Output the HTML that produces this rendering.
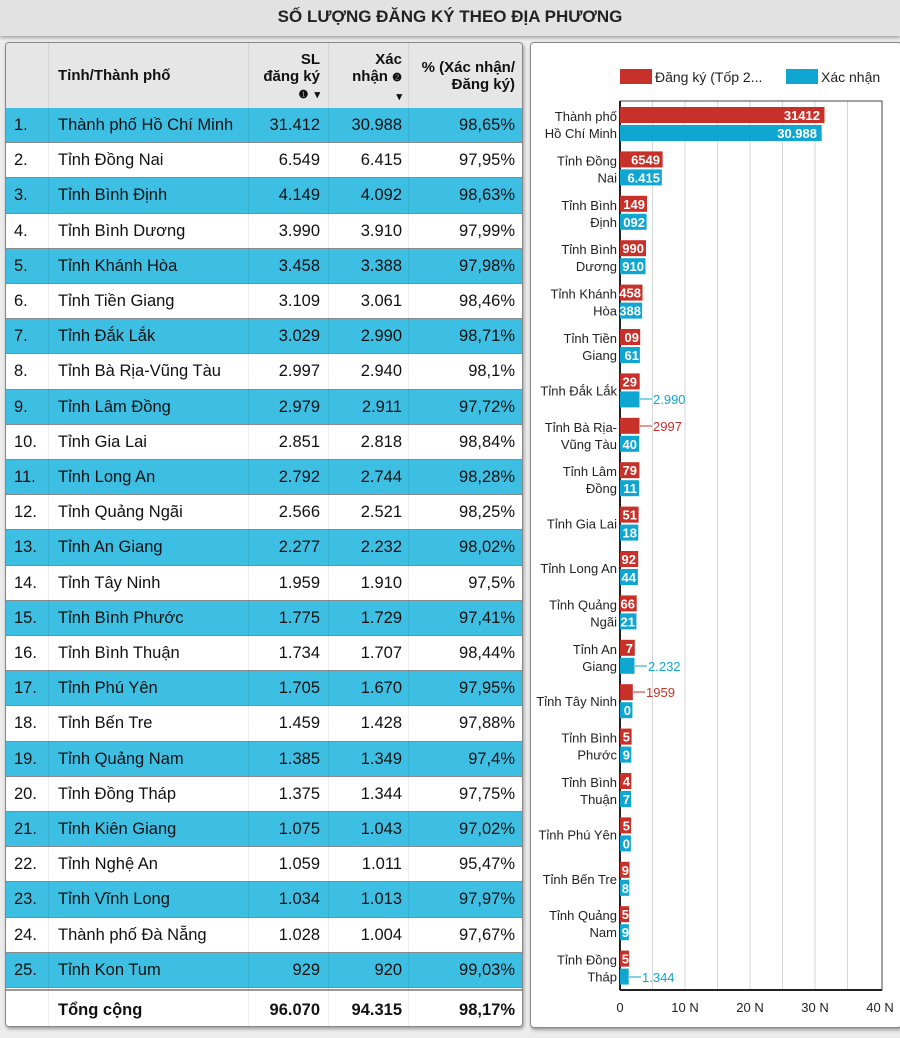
<!DOCTYPE html>
<html><head><meta charset="utf-8">
<style>
*{box-sizing:border-box;margin:0;padding:0}
body{width:900px;height:1038px;background:#ececec;font-family:"Liberation Sans",sans-serif;position:relative;overflow:hidden;color:#111}
.title{position:absolute;left:0;top:0;width:900px;height:36px;background:#e2e2e2;box-shadow:0 2px 3px #aaa;text-align:center;font-weight:bold;font-size:17px;line-height:34px;color:#222}
.tbl{position:absolute;left:5px;top:42px;width:518px;height:985px;background:#fff;border:1px solid #888;border-radius:4px;box-shadow:1px 2px 3px #999;overflow:hidden}
.hdr{position:absolute;left:0;top:0;width:516px;height:65px;background:#e6e6e6;font-weight:bold;font-size:15px}
.row{position:absolute;left:0;width:516px;height:35.2px;border-bottom:1px solid #8a8a8a;font-size:16.5px;line-height:34px}
.c{background:#3dbfe3}
.w{background:#fff}
.row span,.hdr span{position:absolute}
.n{left:8px}.nm{left:52px}
.a{right:202px;text-align:right}.b{right:120px;text-align:right}.p{right:7px;text-align:right}
.v1,.v2,.v3{position:absolute;top:0;width:1px;height:100%;background:rgba(0,0,0,0.07)}
.chart{position:absolute;left:530px;top:42px;width:372px;height:986px;background:#fff;border:1px solid #888;border-radius:4px;box-shadow:1px 2px 3px #999}
</style></head><body>
<div class="title">SỐ LƯỢNG ĐĂNG KÝ THEO ĐỊA PHƯƠNG</div>
<div class="tbl">
<div class="hdr">
<span style="left:52px;top:24px">Tỉnh/Thành phố</span>
<span style="right:202px;top:8px;text-align:right;line-height:17px">SL<br>đăng ký<br><span style="position:static;font-size:11px">❶ &nbsp;▾</span></span>
<span style="right:120px;top:8px;text-align:right;line-height:17px">Xác<br>nhận <span style="position:static;font-size:11px">❷</span><br><span style="position:static;font-size:11px">▾</span></span>
<span style="right:7px;top:16px;text-align:right;line-height:17px">% (Xác nhận/<br>Đăng ký)</span>
</div>
<div class="row c" style="top:65px"><span class="n">1.</span><span class="nm">Thành phố Hồ Chí Minh</span><span class="a">31.412</span><span class="b">30.988</span><span class="p">98,65%</span></div>
<div class="row w" style="top:100.2px"><span class="n">2.</span><span class="nm">Tỉnh Đồng Nai</span><span class="a">6.549</span><span class="b">6.415</span><span class="p">97,95%</span></div>
<div class="row c" style="top:135.4px"><span class="n">3.</span><span class="nm">Tỉnh Bình Định</span><span class="a">4.149</span><span class="b">4.092</span><span class="p">98,63%</span></div>
<div class="row w" style="top:170.6px"><span class="n">4.</span><span class="nm">Tỉnh Bình Dương</span><span class="a">3.990</span><span class="b">3.910</span><span class="p">97,99%</span></div>
<div class="row c" style="top:205.8px"><span class="n">5.</span><span class="nm">Tỉnh Khánh Hòa</span><span class="a">3.458</span><span class="b">3.388</span><span class="p">97,98%</span></div>
<div class="row w" style="top:241px"><span class="n">6.</span><span class="nm">Tỉnh Tiền Giang</span><span class="a">3.109</span><span class="b">3.061</span><span class="p">98,46%</span></div>
<div class="row c" style="top:276.2px"><span class="n">7.</span><span class="nm">Tỉnh Đắk Lắk</span><span class="a">3.029</span><span class="b">2.990</span><span class="p">98,71%</span></div>
<div class="row w" style="top:311.4px"><span class="n">8.</span><span class="nm">Tỉnh Bà Rịa-Vũng Tàu</span><span class="a">2.997</span><span class="b">2.940</span><span class="p">98,1%</span></div>
<div class="row c" style="top:346.6px"><span class="n">9.</span><span class="nm">Tỉnh Lâm Đồng</span><span class="a">2.979</span><span class="b">2.911</span><span class="p">97,72%</span></div>
<div class="row w" style="top:381.8px"><span class="n">10.</span><span class="nm">Tỉnh Gia Lai</span><span class="a">2.851</span><span class="b">2.818</span><span class="p">98,84%</span></div>
<div class="row c" style="top:417px"><span class="n">11.</span><span class="nm">Tỉnh Long An</span><span class="a">2.792</span><span class="b">2.744</span><span class="p">98,28%</span></div>
<div class="row w" style="top:452.2px"><span class="n">12.</span><span class="nm">Tỉnh Quảng Ngãi</span><span class="a">2.566</span><span class="b">2.521</span><span class="p">98,25%</span></div>
<div class="row c" style="top:487.4px"><span class="n">13.</span><span class="nm">Tỉnh An Giang</span><span class="a">2.277</span><span class="b">2.232</span><span class="p">98,02%</span></div>
<div class="row w" style="top:522.6px"><span class="n">14.</span><span class="nm">Tỉnh Tây Ninh</span><span class="a">1.959</span><span class="b">1.910</span><span class="p">97,5%</span></div>
<div class="row c" style="top:557.8px"><span class="n">15.</span><span class="nm">Tỉnh Bình Phước</span><span class="a">1.775</span><span class="b">1.729</span><span class="p">97,41%</span></div>
<div class="row w" style="top:593px"><span class="n">16.</span><span class="nm">Tỉnh Bình Thuận</span><span class="a">1.734</span><span class="b">1.707</span><span class="p">98,44%</span></div>
<div class="row c" style="top:628.2px"><span class="n">17.</span><span class="nm">Tỉnh Phú Yên</span><span class="a">1.705</span><span class="b">1.670</span><span class="p">97,95%</span></div>
<div class="row w" style="top:663.4px"><span class="n">18.</span><span class="nm">Tỉnh Bến Tre</span><span class="a">1.459</span><span class="b">1.428</span><span class="p">97,88%</span></div>
<div class="row c" style="top:698.6px"><span class="n">19.</span><span class="nm">Tỉnh Quảng Nam</span><span class="a">1.385</span><span class="b">1.349</span><span class="p">97,4%</span></div>
<div class="row w" style="top:733.8px"><span class="n">20.</span><span class="nm">Tỉnh Đồng Tháp</span><span class="a">1.375</span><span class="b">1.344</span><span class="p">97,75%</span></div>
<div class="row c" style="top:769px"><span class="n">21.</span><span class="nm">Tỉnh Kiên Giang</span><span class="a">1.075</span><span class="b">1.043</span><span class="p">97,02%</span></div>
<div class="row w" style="top:804.2px"><span class="n">22.</span><span class="nm">Tỉnh Nghệ An</span><span class="a">1.059</span><span class="b">1.011</span><span class="p">95,47%</span></div>
<div class="row c" style="top:839.4px"><span class="n">23.</span><span class="nm">Tỉnh Vĩnh Long</span><span class="a">1.034</span><span class="b">1.013</span><span class="p">97,97%</span></div>
<div class="row w" style="top:874.6px"><span class="n">24.</span><span class="nm">Thành phố Đà Nẵng</span><span class="a">1.028</span><span class="b">1.004</span><span class="p">97,67%</span></div>
<div class="row c" style="top:909.8px"><span class="n">25.</span><span class="nm">Tỉnh Kon Tum</span><span class="a">929</span><span class="b">920</span><span class="p">99,03%</span></div>
<div style="position:absolute;left:0;top:946px;width:516px;height:2px;background:#999"></div>
<div class="row w" style="top:948px;font-weight:bold;border:none;height:36px;line-height:38px"><span class="nm">Tổng cộng</span><span class="a">96.070</span><span class="b">94.315</span><span class="p">98,17%</span></div>
<div class="v1" style="left:42px"></div><div class="v2" style="left:242px"></div><div class="v3" style="left:322px"></div><div class="v3" style="left:402px"></div>
</div>
<div class="chart"></div>
<svg style="position:absolute;left:0;top:0" width="900" height="1038" font-family="Liberation Sans, sans-serif">
<rect x="620" y="69" width="32" height="15" fill="#c8302a"/>
<text x="655" y="82" font-size="14" fill="#222">Đăng ký (Tốp 2...</text>
<rect x="786" y="69" width="32" height="15" fill="#10a6d2"/>
<text x="821" y="82" font-size="14" fill="#222">Xác nhận</text>
<g stroke="#d6d6d6" stroke-width="1">
<line x1="652.5" y1="101" x2="652.5" y2="990"/><line x1="685" y1="101" x2="685" y2="990"/><line x1="717.5" y1="101" x2="717.5" y2="990"/><line x1="750" y1="101" x2="750" y2="990"/><line x1="782.5" y1="101" x2="782.5" y2="990"/><line x1="815" y1="101" x2="815" y2="990"/><line x1="847.5" y1="101" x2="847.5" y2="990"/>
</g>
<rect x="620" y="101" width="262" height="889" fill="none" stroke="#444" stroke-width="1"/>
<line x1="620" y1="101" x2="620" y2="990" stroke="#222" stroke-width="2"/>
<line x1="620" y1="990" x2="882" y2="990" stroke="#222" stroke-width="2"/>
<g fill="#c8302a">
<rect x="620" y="107" width="204.5" height="16"/><rect x="620" y="151.4" width="42.6" height="16"/><rect x="620" y="195.8" width="27" height="16"/><rect x="620" y="240.2" width="26" height="16"/><rect x="620" y="284.6" width="22.5" height="16"/><rect x="620" y="329" width="20.2" height="16"/><rect x="620" y="373.4" width="19.7" height="16"/><rect x="620" y="417.8" width="19.5" height="16"/><rect x="620" y="462.2" width="19.4" height="16"/><rect x="620" y="506.6" width="18.6" height="16"/><rect x="620" y="551" width="18.2" height="16"/><rect x="620" y="595.4" width="16.7" height="16"/><rect x="620" y="639.8" width="14.8" height="16"/><rect x="620" y="684.2" width="12.8" height="16"/><rect x="620" y="728.6" width="11.6" height="16"/><rect x="620" y="773" width="11.3" height="16"/><rect x="620" y="817.4" width="11.1" height="16"/><rect x="620" y="861.8" width="9.5" height="16"/><rect x="620" y="906.2" width="9" height="16"/><rect x="620" y="950.6" width="9" height="16"/>
</g>
<g fill="#10a6d2">
<rect x="620" y="125" width="201.7" height="16"/><rect x="620" y="169.4" width="41.8" height="16"/><rect x="620" y="213.8" width="26.6" height="16"/><rect x="620" y="258.2" width="25.5" height="16"/><rect x="620" y="302.6" width="22.1" height="16"/><rect x="620" y="347" width="19.9" height="16"/><rect x="620" y="391.4" width="19.5" height="16"/><rect x="620" y="435.8" width="19.1" height="16"/><rect x="620" y="480.2" width="19" height="16"/><rect x="620" y="524.6" width="18.3" height="16"/><rect x="620" y="569" width="17.9" height="16"/><rect x="620" y="613.4" width="16.4" height="16"/><rect x="620" y="657.8" width="14.5" height="16"/><rect x="620" y="702.2" width="12.4" height="16"/><rect x="620" y="746.6" width="11.3" height="16"/><rect x="620" y="791" width="11.1" height="16"/><rect x="620" y="835.4" width="10.9" height="16"/><rect x="620" y="879.8" width="9.3" height="16"/><rect x="620" y="924.2" width="8.8" height="16"/><rect x="620" y="968.6" width="8.7" height="16"/>
</g>
<g font-size="13" fill="#fff" font-weight="bold" text-anchor="end">
<text x="820" y="120">31412</text><text x="817" y="138">30.988</text>
<text x="660" y="164.4">6549</text><text x="660" y="182.4">6.415</text>
<text x="645" y="208.8">149</text><text x="645" y="226.8">092</text>
<text x="644" y="253.2">990</text><text x="644" y="271.2">910</text>
<text x="641" y="297.6">458</text><text x="641" y="315.6">388</text>
<text x="639" y="342">09</text><text x="639" y="360">61</text>
<text x="637" y="386.4">29</text>
<text x="637" y="448.8">40</text>
<text x="637" y="475.2">79</text><text x="637" y="493.2">11</text>
<text x="637" y="519.6">51</text><text x="637" y="537.6">18</text>
<text x="636" y="564">92</text><text x="636" y="582">44</text>
<text x="635" y="608.4">66</text><text x="635" y="626.4">21</text>
<text x="633" y="652.8">7</text><text x="631" y="715.2">0</text>
<text x="630" y="741.6">5</text><text x="630" y="759.6">9</text>
<text x="630" y="786">4</text><text x="630" y="804">7</text>
<text x="630" y="830.4">5</text><text x="630" y="848.4">0</text>
<text x="629" y="874.8">9</text><text x="629" y="892.8">8</text>
<text x="629" y="919.2">5</text><text x="629" y="937.2">9</text>
<text x="629" y="963.6">5</text>
</g>
<g font-size="13">
<line x1="640" y1="399" x2="652" y2="399" stroke="#10a6d2"/><text x="653" y="404" fill="#10a6d2">2.990</text>
<line x1="640" y1="426" x2="652" y2="426" stroke="#c8302a"/><text x="653" y="431" fill="#c8302a">2997</text>
<line x1="635" y1="666" x2="647" y2="666" stroke="#10a6d2"/><text x="648" y="671" fill="#10a6d2">2.232</text>
<line x1="633" y1="692" x2="645" y2="692" stroke="#c8302a"/><text x="646" y="697" fill="#c8302a">1959</text>
<line x1="629" y1="977" x2="641" y2="977" stroke="#10a6d2"/><text x="642" y="982" fill="#10a6d2">1.344</text>
</g>
<g font-size="13" fill="#222" text-anchor="end">
<text x="617" y="121">Thành phố</text><text x="617" y="138">Hồ Chí Minh</text>
<text x="617" y="165.4">Tỉnh Đồng</text><text x="617" y="182.4">Nai</text>
<text x="617" y="209.8">Tỉnh Bình</text><text x="617" y="226.8">Định</text>
<text x="617" y="254.2">Tỉnh Bình</text><text x="617" y="271.2">Dương</text>
<text x="617" y="298.6">Tỉnh Khánh</text><text x="617" y="315.6">Hòa</text>
<text x="617" y="343">Tỉnh Tiền</text><text x="617" y="360">Giang</text>
<text x="617" y="395.4">Tỉnh Đắk Lắk</text>
<text x="617" y="431.8">Tỉnh Bà Rịa-</text><text x="617" y="448.8">Vũng Tàu</text>
<text x="617" y="476.2">Tỉnh Lâm</text><text x="617" y="493.2">Đồng</text>
<text x="617" y="528.6">Tỉnh Gia Lai</text>
<text x="617" y="573">Tỉnh Long An</text>
<text x="617" y="609.4">Tỉnh Quảng</text><text x="617" y="626.4">Ngãi</text>
<text x="617" y="653.8">Tỉnh An</text><text x="617" y="670.8">Giang</text>
<text x="617" y="706.2">Tỉnh Tây Ninh</text>
<text x="617" y="742.6">Tỉnh Bình</text><text x="617" y="759.6">Phước</text>
<text x="617" y="787">Tỉnh Bình</text><text x="617" y="804">Thuận</text>
<text x="617" y="839.4">Tỉnh Phú Yên</text>
<text x="617" y="883.8">Tỉnh Bến Tre</text>
<text x="617" y="920.2">Tỉnh Quảng</text><text x="617" y="937.2">Nam</text>
<text x="617" y="964.6">Tỉnh Đồng</text><text x="617" y="981.6">Tháp</text>
</g>
<g font-size="13" fill="#222" text-anchor="middle">
<text x="620" y="1012">0</text><text x="685" y="1012">10 N</text><text x="750" y="1012">20 N</text><text x="815" y="1012">30 N</text><text x="880" y="1012">40 N</text>
</g>
</svg>
</body></html>
